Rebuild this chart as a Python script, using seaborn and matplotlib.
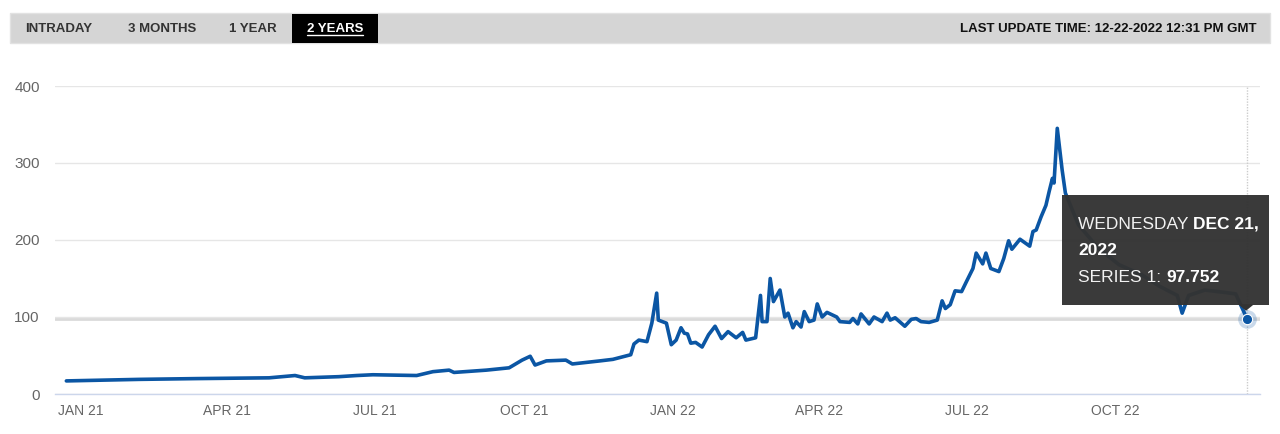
import pandas as pd
import numpy as np
import matplotlib
matplotlib.use("Agg")
import matplotlib.pyplot as plt
import matplotlib.dates as mdates
from matplotlib.patches import Rectangle, Polygon
from matplotlib.lines import Line2D
import seaborn as sns

# values (tooltip hides part of Sep-Dec 2022)
dates = [
    "2020-12-23", "2021-02-06", "2021-03-13", "2021-04-27", "2021-05-13", "2021-05-19",
    "2021-06-09", "2021-06-20", "2021-06-30", "2021-07-27", "2021-08-06", "2021-08-16",
    "2021-08-19", "2021-09-08", "2021-09-22", "2021-09-30", "2021-10-05", "2021-10-08",
    "2021-10-15", "2021-10-27", "2021-10-31", "2021-11-17", "2021-11-25", "2021-12-06",
    "2021-12-08", "2021-12-11", "2021-12-16", "2021-12-19", "2021-12-22", "2021-12-23",
    "2021-12-28", "2021-12-31", "2022-01-03", "2022-01-06", "2022-01-08", "2022-01-10",
    "2022-01-12", "2022-01-15", "2022-01-19", "2022-01-23", "2022-01-27", "2022-01-31",
    "2022-02-04", "2022-02-09", "2022-02-13", "2022-02-15", "2022-02-21", "2022-02-24",
    "2022-02-25", "2022-02-28", "2022-03-02", "2022-03-04", "2022-03-08", "2022-03-11",
    "2022-03-13", "2022-03-16", "2022-03-18", "2022-03-21", "2022-03-23", "2022-03-26",
    "2022-03-29", "2022-03-31", "2022-04-03", "2022-04-06", "2022-04-12", "2022-04-14",
    "2022-04-20", "2022-04-22", "2022-04-25", "2022-04-27", "2022-05-02", "2022-05-05",
    "2022-05-10", "2022-05-13", "2022-05-15", "2022-05-18", "2022-05-24", "2022-05-28",
    "2022-05-31", "2022-06-03", "2022-06-08", "2022-06-13", "2022-06-16", "2022-06-18",
    "2022-06-21", "2022-06-24", "2022-06-28", "2022-07-01", "2022-07-05", "2022-07-07",
    "2022-07-11", "2022-07-13", "2022-07-16", "2022-07-21", "2022-07-24", "2022-07-27",
    "2022-07-29", "2022-08-03", "2022-08-09", "2022-08-11", "2022-08-13", "2022-08-16",
    "2022-08-19", "2022-08-21", "2022-08-23", "2022-08-24", "2022-08-26", "2022-08-29",
    "2022-08-31", "2022-09-08", "2022-09-20", "2022-10-03", "2022-10-17", "2022-10-28",
    "2022-11-08", "2022-11-11", "2022-11-15", "2022-11-25", "2022-12-07", "2022-12-14",
    "2022-12-21",
]
values = [
    17, 19, 20, 21, 24, 21,
    22.5, 24, 25, 24, 29, 31,
    28, 31, 34, 44, 49, 37.6,
    43, 44, 39, 43, 45, 51,
    65, 70, 68, 92, 131, 96,
    92, 64, 70, 86, 79, 78,
    66, 67, 61, 77, 88, 72,
    81, 73, 80, 70, 73, 128,
    94, 94, 150, 120, 135, 100,
    105, 86, 94, 87, 107, 94,
    96, 117, 100, 106, 100, 94,
    93, 98, 91, 104, 91, 100,
    94, 105, 96, 99, 88, 97,
    98, 94, 93, 96, 121, 111,
    116, 134, 133, 146, 163, 183,
    169, 183, 163, 159, 176, 199,
    188, 201, 192, 211, 213, 230,
    245, 263, 280, 274, 345, 291,
    261, 220, 190, 168, 155, 140,
    128, 105, 128, 135, 132, 130,
    97.752,
]

tick_dates = ["2021-01-01", "2021-04-01", "2021-07-01", "2021-10-01",
              "2022-01-01", "2022-04-01", "2022-07-01", "2022-10-01"]
tick_labels = ["JAN 21", "APR 21", "JUL 21", "OCT 21", "JAN 22", "APR 22", "JUL 22", "OCT 22"]
y_ticks = [0, 100, 200, 300, 400]
x_range = ["2020-12-16", "2022-12-29"]

tabs = ["INTRADAY", "3 MONTHS", "1 YEAR", "2 YEARS"]
active_tab = "2 YEARS"
update_text = "LAST UPDATE TIME: 12-22-2022 12:31 PM GMT"
tip_day = "WEDNESDAY "
tip_date = "DEC 21,"
tip_year = "2022"
tip_series = "SERIES 1: "
tip_value = "97.752"

W, H = 1280, 434
LINE = "#0b56a4"


def fx(x):
    return x / W


def fy(y):
    return 1 - y / H


sns.set_style("white")
plt.rcParams["font.family"] = ["Liberation Sans", "DejaVu Sans"]

fig = plt.figure(figsize=(12.8, 4.34), dpi=100)
ax = fig.add_axes([fx(55), fy(394), fx(1260) - fx(55), fy(86) - fy(394)])

df = pd.DataFrame({"date": pd.to_datetime(dates), "value": values})
sns.lineplot(data=df, x="date", y="value", ax=ax, color=LINE, linewidth=2.6, zorder=3)

ax.set_xlim(pd.to_datetime(x_range[0]), pd.to_datetime(x_range[1]))
ax.set_ylim(0, 400)
ax.set_yticks(y_ticks)
ax.set_xticks(pd.to_datetime(tick_dates))
ax.set_xticklabels(tick_labels)
ax.set_xlabel("")
ax.set_ylabel("")
ax.yaxis.grid(True, color="#e6e6e6", linewidth=1)
ax.xaxis.grid(False)
for s in ["top", "right", "left"]:
    ax.spines[s].set_visible(False)
ax.spines["bottom"].set_color("#ccd6eb")
ax.spines["bottom"].set_linewidth(1)
ax.tick_params(axis="y", length=0, pad=11, labelsize=11, labelcolor="#666666")
ax.tick_params(axis="x", length=6, width=1, color="#ccd6eb", pad=1,
               labelsize=10, labelcolor="#666666")

# crosshair + hovered point
last_date = df["date"].iloc[-1]
last_val = df["value"].iloc[-1]
ax.axvline(last_date, color="#cccccc", linewidth=1, linestyle=(0, (1, 1)), zorder=1)
ax.axhline(last_val, color="#dadada", linewidth=2, zorder=1)
ax.scatter([last_date], [last_val], s=180, color=LINE, alpha=0.22, linewidths=0, zorder=4)
ax.scatter([last_date], [last_val], s=55, color=LINE, edgecolor="white", linewidths=0.8, zorder=5)

# header bar
fig.patches.append(Rectangle((fx(10), fy(43)), fx(1260), fy(13) - fy(43), transform=fig.transFigure,
                             facecolor="#d5d5d5", edgecolor="#e2e2e2", linewidth=1))
fig.patches.append(Rectangle((fx(292), fy(43)), fx(86), fy(14) - fy(43), transform=fig.transFigure,
                             facecolor="black", edgecolor="none"))
tab_centers = [59, 162, 253, 335]
fig.canvas.draw()
renderer = fig.canvas.get_renderer()
for name, cx in zip(tabs, tab_centers):
    col = "white" if name == active_tab else "#333333"
    t = fig.text(fx(cx), fy(28.5), name, ha="center", va="center", fontsize=9.5,
                 fontweight="bold", color=col)
    if name == active_tab:
        bb = t.get_window_extent(renderer)
        fig.lines.append(Line2D([bb.x0 / W, bb.x1 / W], [fy(35), fy(35)], transform=fig.transFigure,
                                color="white", linewidth=1))
fig.text(fx(1257), fy(28.5), update_text, ha="right", va="center", fontsize=9.5,
         fontweight="bold", color="#111111")

# tooltip anchored on the hovered point
px, py = ax.transData.transform((mdates.date2num(last_date), last_val))
dx, dy = px, H - py
fig.patches.append(Rectangle((fx(dx - 185), fy(dy - 14)), fx(207), fy(dy - 124) - fy(dy - 14),
                             transform=fig.transFigure, facecolor="#333333", edgecolor="none",
                             alpha=0.97, zorder=6))
fig.patches.append(Polygon([(fx(dx - 9), fy(dy - 14.5)), (fx(dx + 7), fy(dy - 14.5)), (fx(dx - 1), fy(dy - 8))],
                           closed=True, transform=fig.transFigure, facecolor="#333333",
                           edgecolor="none", zorder=6))
tx = dx - 169
t1 = fig.text(fx(tx), fy(dy - 90), tip_day, ha="left", va="baseline", fontsize=12.5,
              color="#f2f2f2", zorder=7)
bb = t1.get_window_extent(renderer)
fig.text(bb.x1 / W, fy(dy - 90), tip_date, ha="left", va="baseline", fontsize=12.5,
         fontweight="bold", color="white", zorder=7)
fig.text(fx(tx), fy(dy - 64), tip_year, ha="left", va="baseline", fontsize=12.5,
         fontweight="bold", color="white", zorder=7)
t3 = fig.text(fx(tx), fy(dy - 37), tip_series, ha="left", va="baseline", fontsize=12.5,
              color="#f2f2f2", zorder=7)
bb = t3.get_window_extent(renderer)
fig.text(bb.x1 / W, fy(dy - 37), tip_value, ha="left", va="baseline", fontsize=12.5,
         fontweight="bold", color="white", zorder=7)

plt.savefig("out.png", dpi=100)
